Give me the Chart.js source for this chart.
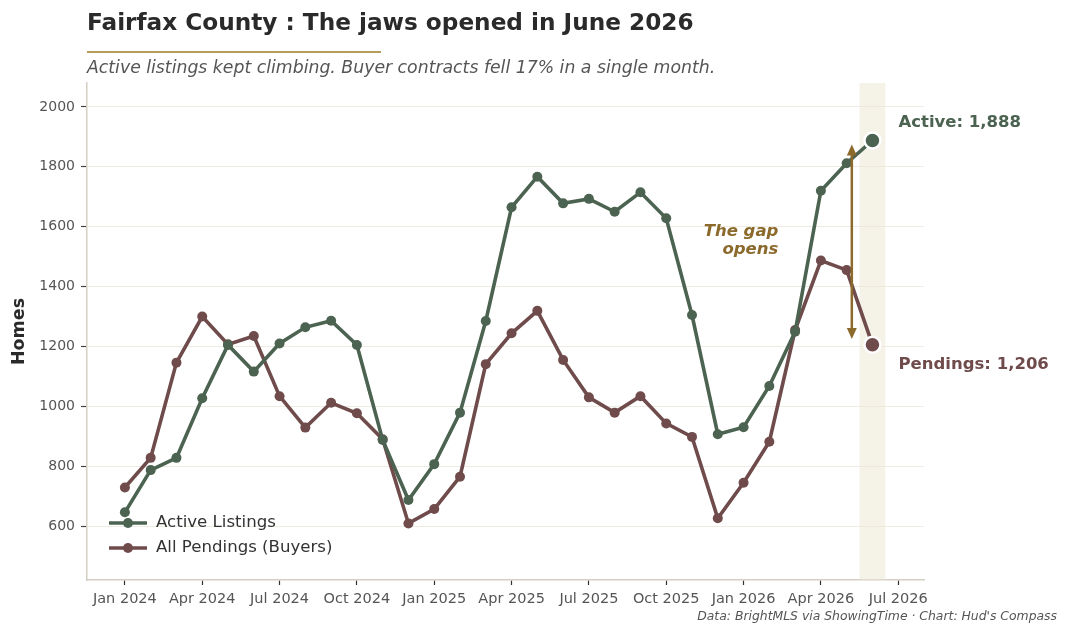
<!DOCTYPE html>
<html>
<head>
<meta charset="utf-8">
<script src="https://cdn.jsdelivr.net/npm/chart.js@4.4.1/dist/chart.umd.min.js"></script>
<style>
  html, body { margin: 0; padding: 0; background: #ffffff; }
  #wrap { width: 1068px; height: 634px; position: relative; }
</style>
</head>
<body>
<div id="wrap"><canvas id="grafico" width="1068" height="634"></canvas></div>
<script>
// months Jan 2024 .. Jun 2026 (index 0..29)
const meses = ['Jan 2024','Feb 2024','Mar 2024','Apr 2024','May 2024','Jun 2024','Jul 2024','Aug 2024','Sep 2024','Oct 2024','Nov 2024','Dec 2024',
  'Jan 2025','Feb 2025','Mar 2025','Apr 2025','May 2025','Jun 2025','Jul 2025','Aug 2025','Sep 2025','Oct 2025','Nov 2025','Dec 2025',
  'Jan 2026','Feb 2026','Mar 2026','Apr 2026','May 2026','Jun 2026'];

const activeListings = [646, 787, 828, 1027, 1205, 1116, 1210, 1264, 1286, 1205, 888, 687,
  807, 979, 1285, 1665, 1767, 1678, 1693, 1650, 1715, 1628, 1305, 907,
  930, 1068, 1249, 1720, 1812, 1888];

const pendings = [729, 828, 1146, 1300, 1207, 1235, 1034, 929, 1012, 977, 890, 609,
  657, 765, 1141, 1244, 1319, 1155, 1030, 979, 1034, 943, 898, 626,
  745, 882, 1255, 1487, 1455, 1206];

// x tick labels every 3 months (Jul 2026 = index 30)
const xTickPos = [0, 3, 6, 9, 12, 15, 18, 21, 24, 27, 30];
const xTickLabels = ['Jan 2024','Apr 2024','Jul 2024','Oct 2024','Jan 2025','Apr 2025','Jul 2025','Oct 2025','Jan 2026','Apr 2026','Jul 2026'];
const yTicks = [600, 800, 1000, 1200, 1400, 1600, 1800, 2000];

// annotation: highlighted month and gap arrow
const destaque = [28.5, 29.5];
const gapArrow = { x: 28.2, top: 1875, bottom: 1225 };
const gapText = { x: 25.35, y1: 1582, y2: 1522, linhas: ['The gap', 'opens'] };

const corActive = '#4b6350';
const corPend = '#6f4b4b';
const corOuro = '#8b6a2c';
const fonte = '"DejaVu Sans", sans-serif';

const ultimo = meses.length - 1;

function pontoRaio(ctx) { return ctx.dataIndex === ultimo ? 8 : 5; }
function pontoBorda(ctx) { return ctx.dataIndex === ultimo ? 2.5 : 0; }

const anotacoes = {
  id: 'anotacoes',
  beforeDatasetsDraw(chart) {
    const { ctx, chartArea, scales } = chart;
    const x0 = scales.x.getPixelForValue(destaque[0]);
    const x1 = scales.x.getPixelForValue(destaque[1]);
    ctx.save();
    ctx.fillStyle = 'rgba(236, 229, 210, 0.5)';
    ctx.fillRect(x0, chartArea.top, x1 - x0, chartArea.bottom - chartArea.top);
    ctx.restore();
  },
  afterDatasetsDraw(chart) {
    const { ctx, scales } = chart;
    const x = scales.x, y = scales.y;
    ctx.save();

    // gap arrow
    const ax = x.getPixelForValue(gapArrow.x);
    const ayTop = y.getPixelForValue(gapArrow.top);
    const ayBot = y.getPixelForValue(gapArrow.bottom);
    ctx.strokeStyle = corOuro;
    ctx.fillStyle = corOuro;
    ctx.lineWidth = 2.5;
    ctx.beginPath();
    ctx.moveTo(ax, ayTop + 6);
    ctx.lineTo(ax, ayBot - 6);
    ctx.stroke();
    ctx.beginPath();
    ctx.moveTo(ax, ayTop); ctx.lineTo(ax - 5, ayTop + 11); ctx.lineTo(ax + 5, ayTop + 11); ctx.closePath();
    ctx.fill();
    ctx.beginPath();
    ctx.moveTo(ax, ayBot); ctx.lineTo(ax - 5, ayBot - 11); ctx.lineTo(ax + 5, ayBot - 11); ctx.closePath();
    ctx.fill();

    // gap text
    ctx.font = 'italic bold 16.5px ' + fonte;
    ctx.textAlign = 'right';
    ctx.textBaseline = 'middle';
    const tx = x.getPixelForValue(gapText.x);
    ctx.fillText(gapText.linhas[0], tx, y.getPixelForValue(gapText.y1));
    ctx.fillText(gapText.linhas[1], tx, y.getPixelForValue(gapText.y2));

    // end labels
    ctx.font = 'bold 16.5px ' + fonte;
    ctx.textAlign = 'left';
    const lx = x.getPixelForValue(ultimo) + 26;
    ctx.fillStyle = corActive;
    ctx.fillText('Active: ' + activeListings[ultimo].toLocaleString('en-US'), lx, y.getPixelForValue(activeListings[ultimo]) - 18);
    ctx.fillStyle = corPend;
    ctx.fillText('Pendings: ' + pendings[ultimo].toLocaleString('en-US'), lx, y.getPixelForValue(pendings[ultimo]) + 20);

    // legend (lower left inside plot)
    const itens = [['Active Listings', corActive], ['All Pendings (Buyers)', corPend]];
    itens.forEach((it, i) => {
      const ly = 523 + i * 25;
      ctx.strokeStyle = it[1];
      ctx.fillStyle = it[1];
      ctx.lineWidth = 3.5;
      ctx.beginPath();
      ctx.moveTo(109, ly); ctx.lineTo(147, ly);
      ctx.stroke();
      ctx.beginPath();
      ctx.arc(128, ly, 5, 0, Math.PI * 2);
      ctx.fill();
      ctx.fillStyle = '#333333';
      ctx.font = '16.6px ' + fonte;
      ctx.textAlign = 'left';
      ctx.fillText(it[0], 156, ly);
    });

    // title block
    ctx.textBaseline = 'alphabetic';
    ctx.fillStyle = '#2a2a2a';
    ctx.font = 'bold 23.2px ' + fonte;
    ctx.fillText('Fairfax County : The jaws opened in June 2026', 87, 30);
    ctx.strokeStyle = '#b89c5c';
    ctx.lineWidth = 2;
    ctx.beginPath();
    ctx.moveTo(87, 52); ctx.lineTo(381, 52);
    ctx.stroke();
    ctx.fillStyle = '#555555';
    ctx.font = 'italic 17.3px ' + fonte;
    ctx.fillText('Active listings kept climbing. Buyer contracts fell 17% in a single month.', 87, 73);

    // source
    ctx.font = 'italic 12.4px ' + fonte;
    ctx.textAlign = 'right';
    ctx.fillText("Data: BrightMLS via ShowingTime \u00b7 Chart: Hud's Compass", 1057, 620);
    ctx.restore();
  }
};

const ctx = document.getElementById('grafico').getContext('2d');
const grafico = new Chart(ctx, {
  type: 'line',
  data: {
    labels: meses,
    datasets: [
      {
        label: 'Active Listings',
        data: activeListings.map((v, i) => ({ x: i, y: v })),
        borderColor: corActive,
        backgroundColor: corActive,
        pointBackgroundColor: corActive,
        pointBorderColor: '#ffffff',
        pointBorderWidth: pontoBorda,
        pointRadius: pontoRaio,
        borderWidth: 3.6,
        tension: 0
      },
      {
        label: 'All Pendings (Buyers)',
        data: pendings.map((v, i) => ({ x: i, y: v })),
        borderColor: corPend,
        backgroundColor: corPend,
        pointBackgroundColor: corPend,
        pointBorderColor: '#ffffff',
        pointBorderWidth: pontoBorda,
        pointRadius: pontoRaio,
        borderWidth: 3.6,
        tension: 0
      }
    ]
  },
  options: {
    responsive: false,
    animation: false,
    layout: { padding: { left: 0, right: 144, top: 83, bottom: 0 } },
    plugins: {
      legend: { display: false },
      tooltip: { enabled: false }
    },
    scales: {
      x: {
        type: 'linear',
        min: -1.47,
        max: 31,
        afterFit: s => { s.height = 54; },
        afterBuildTicks: s => { s.ticks = xTickPos.map(v => ({ value: v })); },
        grid: { drawOnChartArea: false, drawTicks: true, tickLength: 5, tickColor: '#333333', tickWidth: 1.2 },
        border: { color: '#d3cfc2', width: 1.5 },
        ticks: {
          autoSkip: false,
          maxRotation: 0,
          padding: 6,
          color: '#555555',
          font: { family: fonte, size: 14.5 },
          callback: v => xTickLabels[xTickPos.indexOf(v)] || ''
        }
      },
      y: {
        min: 420,
        max: 2080,
        afterFit: s => { s.width = 87; },
        afterBuildTicks: s => { s.ticks = yTicks.map(v => ({ value: v })); },
        grid: { color: '#eeebe3', lineWidth: 1, tickLength: 6, tickColor: '#444444', tickWidth: 1.2 },
        border: { color: '#d3cfc2', width: 1.5 },
        ticks: {
          padding: 6,
          color: '#555555',
          font: { family: fonte, size: 14 },
          callback: v => String(v)
        },
        title: {
          display: true,
          text: 'Homes',
          color: '#2a2a2a',
          font: { family: fonte, size: 17.5, weight: 'bold' },
          padding: { top: 9, bottom: 0 }
        }
      }
    }
  },
  plugins: [anotacoes]
});
</script>
</body>
</html>
